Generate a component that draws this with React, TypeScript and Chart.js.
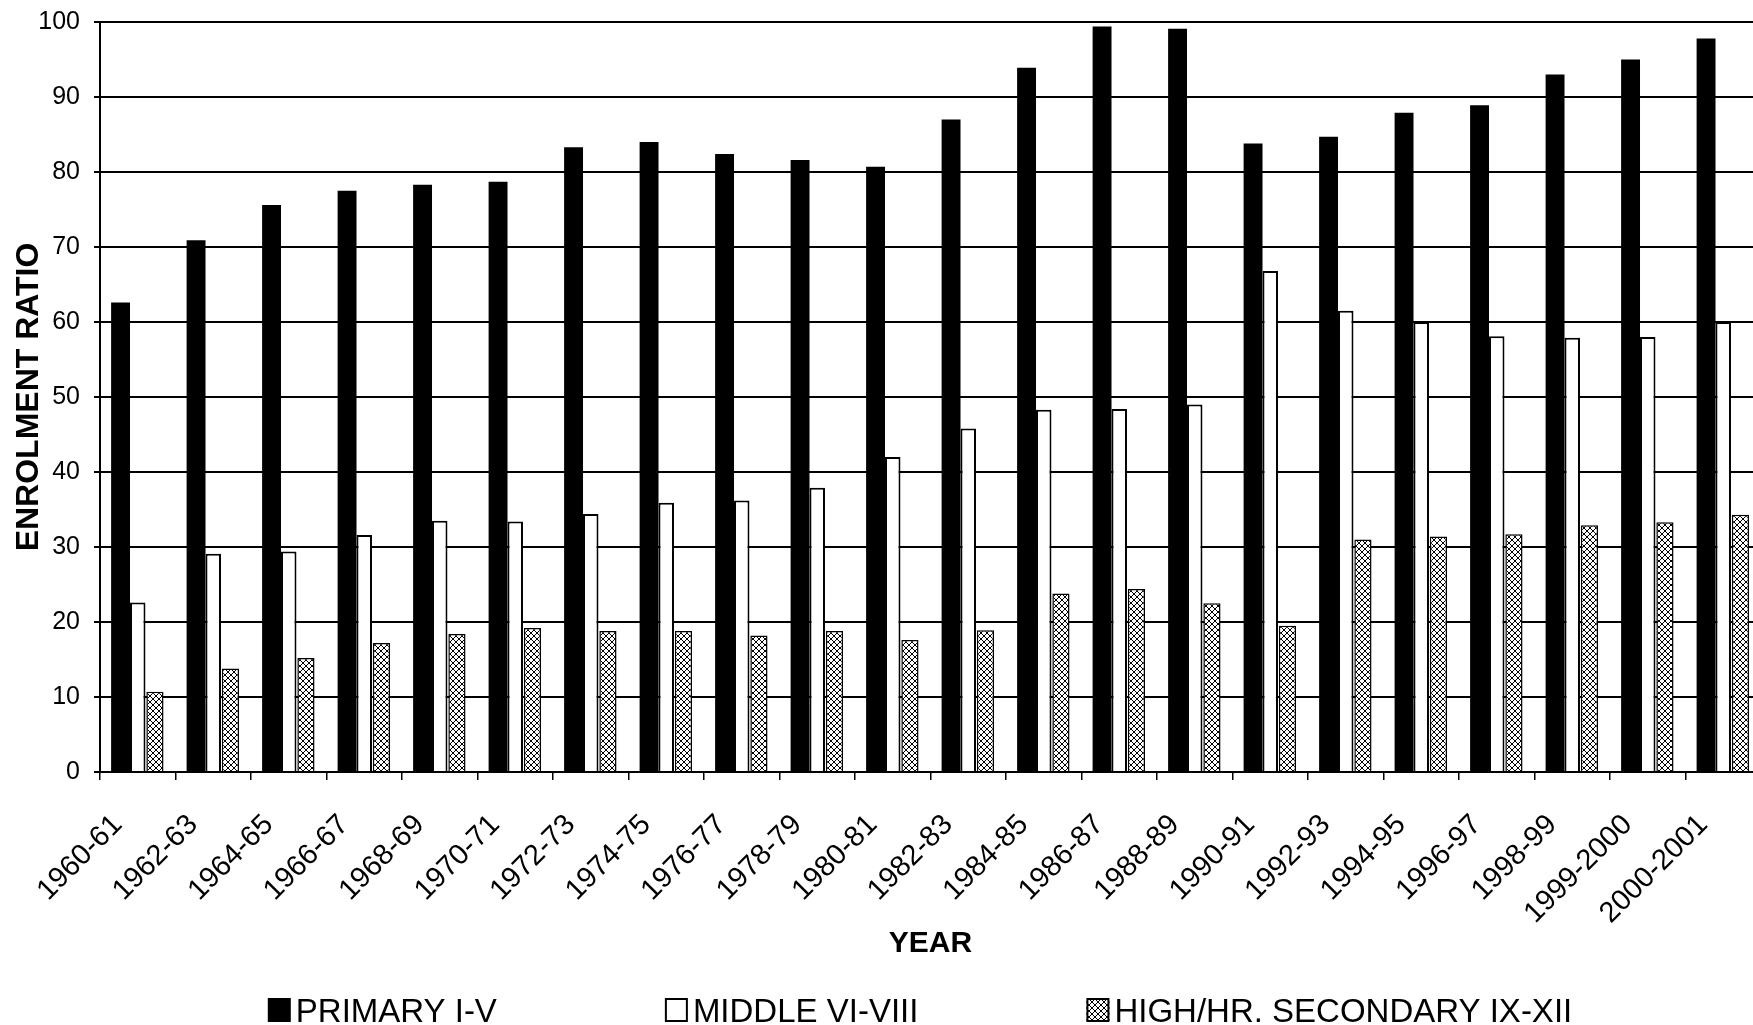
import React, { useEffect, useRef } from "react";
import { Chart, registerables } from "chart.js";

Chart.register(...registerables);

const years = [
  "1960-61", "1962-63", "1964-65", "1966-67", "1968-69", "1970-71",
  "1972-73", "1974-75", "1976-77", "1978-79", "1980-81", "1982-83",
  "1984-85", "1986-87", "1988-89", "1990-91", "1992-93", "1994-95",
  "1996-97", "1998-99", "1999-2000", "2000-2001",
];

const primary = [
  62.6, 70.9, 75.6, 77.5, 78.3, 78.7, 83.3, 84.0, 82.4, 81.6, 80.7, 87.0,
  93.9, 99.4, 99.1, 83.8, 84.7, 87.9, 88.9, 93.0, 95.0, 97.8,
];

const middle = [
  22.6, 29.1, 29.4, 31.6, 33.5, 33.4, 34.4, 35.9, 36.2, 37.9, 42.0, 45.8,
  48.3, 48.4, 49.0, 66.8, 61.5, 60.0, 58.1, 57.9, 58.0, 60.0,
];

const high = [
  10.7, 13.8, 15.2, 17.2, 18.4, 19.2, 18.8, 18.8, 18.2, 18.8, 17.6, 18.9,
  23.8, 24.4, 22.5, 19.5, 31.0, 31.4, 31.7, 32.9, 33.3, 34.3,
];

const seriesLabels = ["PRIMARY I-V", "MIDDLE VI-VIII", "HIGH/HR. SECONDARY IX-XII"];
const yAxisTitle = "ENROLMENT RATIO";
const xAxisTitle = "YEAR";

const FONT = "'Liberation Sans', Arial, Helvetica, sans-serif";

function makeHatch(): CanvasPattern | string {
  const c = document.createElement("canvas");
  c.width = 6;
  c.height = 6;
  const g = c.getContext("2d");
  if (!g) return "#888";
  g.fillStyle = "#fff";
  g.fillRect(0, 0, 6, 6);
  g.fillStyle = "#000";
  for (let i = 0; i < 6; i++) {
    g.fillRect(i, i, 1, 1);
    g.fillRect(5 - i, i, 1, 1);
  }
  return g.createPattern(c, "repeat") || "#888";
}

const bottomLegend = {
  id: "bottomLegend",
  afterDraw(chart: any) {
    const ctx = chart.ctx as CanvasRenderingContext2D;
    ctx.save();
    ctx.font = `33px ${FONT}`;
    const box = 23;
    const boxH = 24;
    const gapText = 5;
    const gapItem = 168;
    const ds = chart.data.datasets;
    const widths = ds.map((d: any) => box + gapText + ctx.measureText(d.label).width);
    const total = widths.reduce((a: number, b: number) => a + b, 0) + gapItem * (ds.length - 1);
    let x = chart.width / 2 - total / 2 - 6;
    const baseY = chart.height - 3;
    const boxTop = chart.height - 27;
    ds.forEach((d: any, i: number) => {
      ctx.fillStyle = d.backgroundColor;
      ctx.fillRect(x, boxTop, box, boxH);
      if (d.borderWidth) {
        ctx.lineWidth = 2;
        ctx.strokeStyle = "#000";
        ctx.strokeRect(x + 1, boxTop + 1, box - 2, boxH - 2);
      }
      ctx.fillStyle = "#000";
      ctx.textAlign = "left";
      ctx.textBaseline = "alphabetic";
      ctx.fillText(d.label, x + box + gapText, baseY);
      x += widths[i] + gapItem;
    });
    ctx.restore();
  },
};

export default function App() {
  const ref = useRef<HTMLCanvasElement | null>(null);

  useEffect(() => {
    if (!ref.current) return;
    const hatch = makeHatch();
    const chart = new Chart(ref.current, {
      type: "bar",
      data: {
        labels: years,
        datasets: [
          {
            label: seriesLabels[0],
            data: primary,
            backgroundColor: "#000",
            borderWidth: 0,
            barPercentage: 1.1,
          },
          {
            label: seriesLabels[1],
            data: middle,
            backgroundColor: "#fff",
            borderColor: "#000",
            borderWidth: 2,
            barPercentage: 0.9,
          },
          {
            label: seriesLabels[2],
            data: high,
            backgroundColor: hatch as any,
            borderColor: "#000",
            borderWidth: 1.5,
            barPercentage: 1.0,
          },
        ],
      },
      options: {
        animation: false,
        responsive: false,
        devicePixelRatio: 1,
        layout: { padding: { left: 0, right: 91, top: 22, bottom: 60 } },
        datasets: { bar: { categoryPercentage: 0.683 } },
        plugins: {
          legend: { display: false },
          tooltip: { enabled: false },
        },
        scales: {
          x: {
            grid: {
              display: true,
              drawOnChartArea: false,
              drawTicks: true,
              tickLength: 8,
              color: "#000",
              lineWidth: 1.5,
              offset: true,
            },
            border: { display: true, color: "#000", width: 2 },
            ticks: {
              autoSkip: false,
              minRotation: 45,
              maxRotation: 45,
              color: "#000",
              font: { family: FONT, size: 29 },
              padding: 28,
              labelOffset: -20,
            },
            title: {
              display: true,
              text: xAxisTitle,
              color: "#000",
              font: { family: FONT, size: 30, weight: "bold" },
              padding: { top: 0, bottom: 3 },
            },
            afterFit: (s: any) => {
              s.height = 193;
            },
          },
          y: {
            min: 0,
            max: 100,
            ticks: {
              stepSize: 10,
              color: "#000",
              font: { family: FONT, size: 25 },
              padding: 14,
            },
            grid: { color: "#000", lineWidth: 2, tickLength: 6, drawTicks: true },
            border: { display: true, color: "#000", width: 2 },
            title: {
              display: true,
              text: yAxisTitle,
              color: "#000",
              font: { family: FONT, size: 32, weight: "bold" },
              padding: { top: 10, bottom: 0 },
            },
            afterFit: (s: any) => {
              s.width = 100;
              s.paddingTop = 0;
              s.paddingBottom = 0;
            },
          },
        },
      } as any,
      plugins: [bottomLegend],
    });
    return () => chart.destroy();
  }, []);

  return (
    <div
      style={{
        position: "fixed",
        left: 0,
        top: 0,
        width: 1753,
        height: 1025,
        overflow: "hidden",
        background: "#fff",
      }}
    >
      <canvas ref={ref} width={1852} height={1025} style={{ width: 1852, height: 1025, display: "block" }} />
    </div>
  );
}
